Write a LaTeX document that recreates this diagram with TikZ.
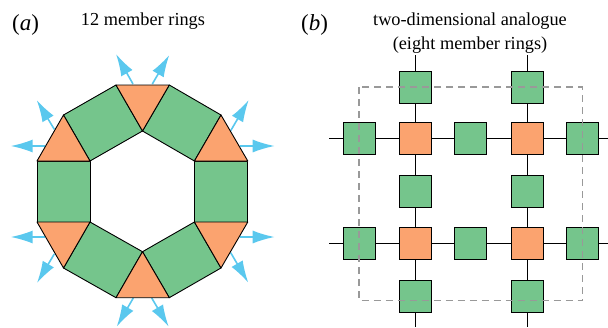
\documentclass[tikz,border=0pt]{standalone}
\usepackage{fontspec}
\setmainfont{Liberation Serif}
\usetikzlibrary{arrows.meta}
\definecolor{gr}{HTML}{75C58C}
\definecolor{og}{HTML}{FBA36F}
\definecolor{bl}{HTML}{5AC8EE}
\tikzset{
  x=1pt,y=-1pt,
  gpoly/.style={fill=gr,draw=black,line width=0.9pt,line join=round},
  opoly/.style={fill=og,draw=black,line width=0.9pt,line join=round},
  outarrow/.style={draw=bl,line width=1.6pt,-{Latex[length=22pt,width=13pt]}},
  gbox/.style={draw=black,fill=gr,line width=0.9pt,minimum size=32pt,inner sep=0pt},
  obox/.style={draw=black,fill=og,line width=0.9pt,minimum size=32pt,inner sep=0pt},
  link/.style={draw=black,line width=0.9pt},
  frame/.style={draw=black!40,line width=1.1pt,dash pattern=on 7pt off 5pt},
  lab/.style={font=\fontsize{23}{26}\selectfont,inner sep=0pt,anchor=base},
  ttl/.style={font=\fontsize{18.3}{22}\selectfont,inner sep=0pt,anchor=base}
}
\begin{document}
\begin{tikzpicture}
\useasboundingbox (0,0) rectangle (608,327);
% ring arrows
\draw[outarrow] (45,146) -- (10.7,146);
\draw[outarrow] (54.3,129.3) -- (36.7,100);
\draw[outarrow] (133,84) -- (116,54);
\draw[outarrow] (152.3,84) -- (169.3,55);
\draw[outarrow] (230.7,130.7) -- (248.7,100);
\draw[outarrow] (240,146) -- (274.7,146);
\draw[outarrow] (45,237) -- (10.7,237);
\draw[outarrow] (54.3,254) -- (37,283);
\draw[outarrow] (133.3,298) -- (116.7,326.7);
\draw[outarrow] (151.7,298) -- (168.7,326.7);
\draw[outarrow] (230.7,252.7) -- (248.3,282.7);
\draw[outarrow] (240,237) -- (274.7,237);
% ring
\draw[gpoly] (37,161) -- (90,161) -- (90,222) -- (37,222) -- cycle;
\draw[gpoly] (194.4,161) -- (247.8,161) -- (247.8,222) -- (194.4,222) -- cycle;
\draw[gpoly] (63.5,115) -- (116,85) -- (142.5,131) -- (90,161) -- cycle;
\draw[gpoly] (169.3,85) -- (221,115) -- (194.4,161) -- (142.5,131) -- cycle;
\draw[gpoly] (90,222) -- (142.5,251.7) -- (116,297.7) -- (63.5,268) -- cycle;
\draw[gpoly] (194.4,222) -- (221,268) -- (169.3,297.7) -- (142.5,251.7) -- cycle;
\draw[opoly] (37,161) -- (63.5,115) -- (90,161) -- cycle;
\draw[opoly] (116,85) -- (169.3,85) -- (142.5,131) -- cycle;
\draw[opoly] (194.4,161) -- (221,115) -- (247.8,161) -- cycle;
\draw[opoly] (37,222) -- (90,222) -- (63.5,268) -- cycle;
\draw[opoly] (116,297.7) -- (142.5,251.7) -- (169.3,297.7) -- cycle;
\draw[opoly] (194.4,222) -- (247.8,222) -- (221,268) -- cycle;
% grid
\coordinate (w1) at (329,138); \coordinate (e1) at (608,138);
\coordinate (w2) at (329,243); \coordinate (e2) at (608,243);
\coordinate (n1) at (415,55);  \coordinate (s1) at (415,327);
\coordinate (n2) at (527.5,55);\coordinate (s2) at (527.5,327);
\draw[link] (w1) -- (e1);
\draw[link] (w2) -- (e2);
\draw[link] (n1) -- (s1);
\draw[link] (n2) -- (s2);
\node[gbox] (a1) at (415,87) {};
\node[gbox] (a2) at (527.5,87) {};
\node[gbox] (b1) at (359,138) {};
\node[obox] (b2) at (415,138) {};
\node[gbox] (b3) at (470.5,138) {};
\node[obox] (b4) at (527.5,138) {};
\node[gbox] (b5) at (582.5,138) {};
\node[gbox] (c1) at (415,191.5) {};
\node[gbox] (c2) at (527.5,191.5) {};
\node[gbox] (d1) at (359,243) {};
\node[obox] (d2) at (415,243) {};
\node[gbox] (d3) at (470.5,243) {};
\node[obox] (d4) at (527.5,243) {};
\node[gbox] (d5) at (582.5,243) {};
\node[gbox] (e1b) at (415,296) {};
\node[gbox] (e2b) at (527.5,296) {};
\draw[frame] (359,87) rectangle (582.5,300.5);
% text
\node[lab] (la) at (25.5,30) {(\textit{a})};
\node[lab] (lb) at (314.5,30) {(\textit{b})};
\node[ttl] (ta) at (143,25) {12 member rings};
\node[ttl] (tb) at (470,25) {two-dimensional analogue};
\node[ttl] (tc) at (470,49) {(eight member rings)};
\end{tikzpicture}
\end{document}
